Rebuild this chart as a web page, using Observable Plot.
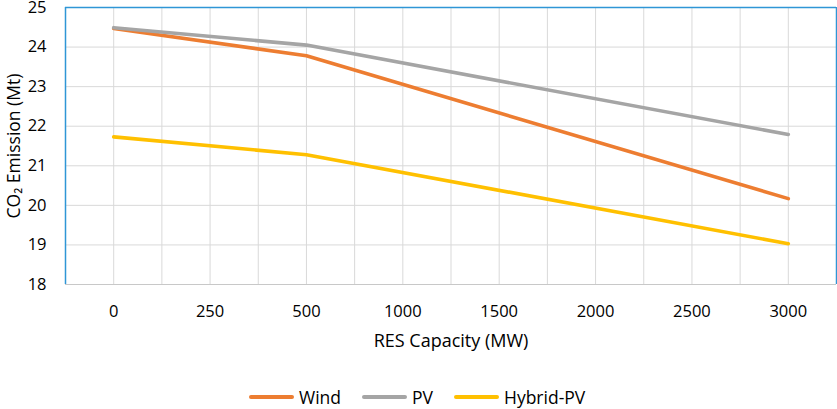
<!DOCTYPE html>
<html>
<head>
<meta charset="utf-8">
<script src="https://cdn.jsdelivr.net/npm/d3@7"></script>
<script src="https://cdn.jsdelivr.net/npm/@observablehq/plot@0.6"></script>
<style>
  html, body { margin: 0; padding: 0; background: #fff; }
  body { width: 837px; height: 409px; position: relative; font-family: "Open Sans", sans-serif; }
  #chart svg { display: block; overflow: visible; }
  #legend { position: absolute; left: 249px; top: 388px; display: flex; align-items: center; font-size: 17.5px; color: #000; line-height: 18px; height: 18px; }
  .item { display: flex; align-items: center; margin-right: 21px; }
  .sw { width: 45px; height: 4px; border-radius: 2px; margin-right: 5px; }
</style>
</head>
<body>
<div id="chart"></div>
<div id="legend"></div>
<script>
const categories = ["0", "250", "500", "1000", "1500", "2000", "2500", "3000"];
const capacity = ["0", "500", "3000"];
const wind = [24.47, 23.78, 20.17];
const pv = [24.49, 24.05, 21.79];
const hybrid = [21.73, 21.28, 19.03];
const seriesNames = ["Wind", "PV", "Hybrid-PV"];
const seriesColors = ["#ED7D31", "#A5A5A5", "#FFC000"];
const yTicks = [18, 19, 20, 21, 22, 23, 24, 25];

const seriesValues = [wind, pv, hybrid];
const rows = [];
seriesNames.forEach((name, s) => {
  capacity.forEach((c, i) => rows.push({series: name, x: categories.indexOf(c), y: seriesValues[s][i]}));
});
const xGrid = d3.range(-0.5, categories.length, 0.5);
const xMin = -0.5, xMax = categories.length - 0.5;

const chart = Plot.plot({
  width: 837,
  height: 360,
  marginTop: 7,
  marginBottom: 76,
  marginLeft: 65,
  marginRight: 1,
  style: {fontFamily: "'Open Sans', sans-serif", fontSize: "16.5px", color: "#000", background: "#fff", overflow: "visible"},
  x: {domain: [xMin, xMax]},
  y: {domain: [18, 25]},
  color: {domain: seriesNames, range: seriesColors},
  marks: [
    Plot.ruleX(xGrid, {stroke: "#D9D9D9", strokeWidth: 1, y1: 18, y2: 25}),
    Plot.ruleY(yTicks, {stroke: "#D9D9D9", strokeWidth: 1}),
    Plot.ruleY([18], {stroke: "#C8C8C8", strokeWidth: 1.2}),
    Plot.ruleX([xMin, xMax], {stroke: "#2F96D6", strokeWidth: 1.5, y1: 18, y2: 25}),
    Plot.ruleY([25], {stroke: "#2F96D6", strokeWidth: 1.5}),
    Plot.axisX(d3.range(categories.length), {
      tickSize: 0, tickPadding: 21, tickFormat: i => categories[i], fontSize: 16.5, label: null
    }),
    Plot.axisX({
      ticks: [], tickSize: 0, fontSize: 18,
      label: "RES Capacity (MW)", labelAnchor: "center", labelArrow: "none", labelOffset: 62
    }),
    Plot.axisY(yTicks, {
      tickSize: 0, tickPadding: 19, fontSize: 16.5, label: null
    }),
    Plot.axisY({
      ticks: [], tickSize: 0, fontSize: 17.5,
      label: "CO₂ Emission (Mt)", labelAnchor: "center", labelArrow: "none", labelOffset: 58
    }),
    Plot.line(rows, {x: "x", y: "y", z: "series", stroke: "series", strokeWidth: 3.6, strokeLinecap: "round", strokeLinejoin: "round"})
  ]
});
document.getElementById("chart").appendChild(chart);

const legend = document.getElementById("legend");
seriesNames.forEach((name, i) => {
  const item = document.createElement("div");
  item.className = "item";
  const sw = document.createElement("div");
  sw.className = "sw";
  sw.style.background = seriesColors[i];
  const t = document.createElement("span");
  t.textContent = name;
  item.appendChild(sw);
  item.appendChild(t);
  legend.appendChild(item);
});
</script>
</body>
</html>
